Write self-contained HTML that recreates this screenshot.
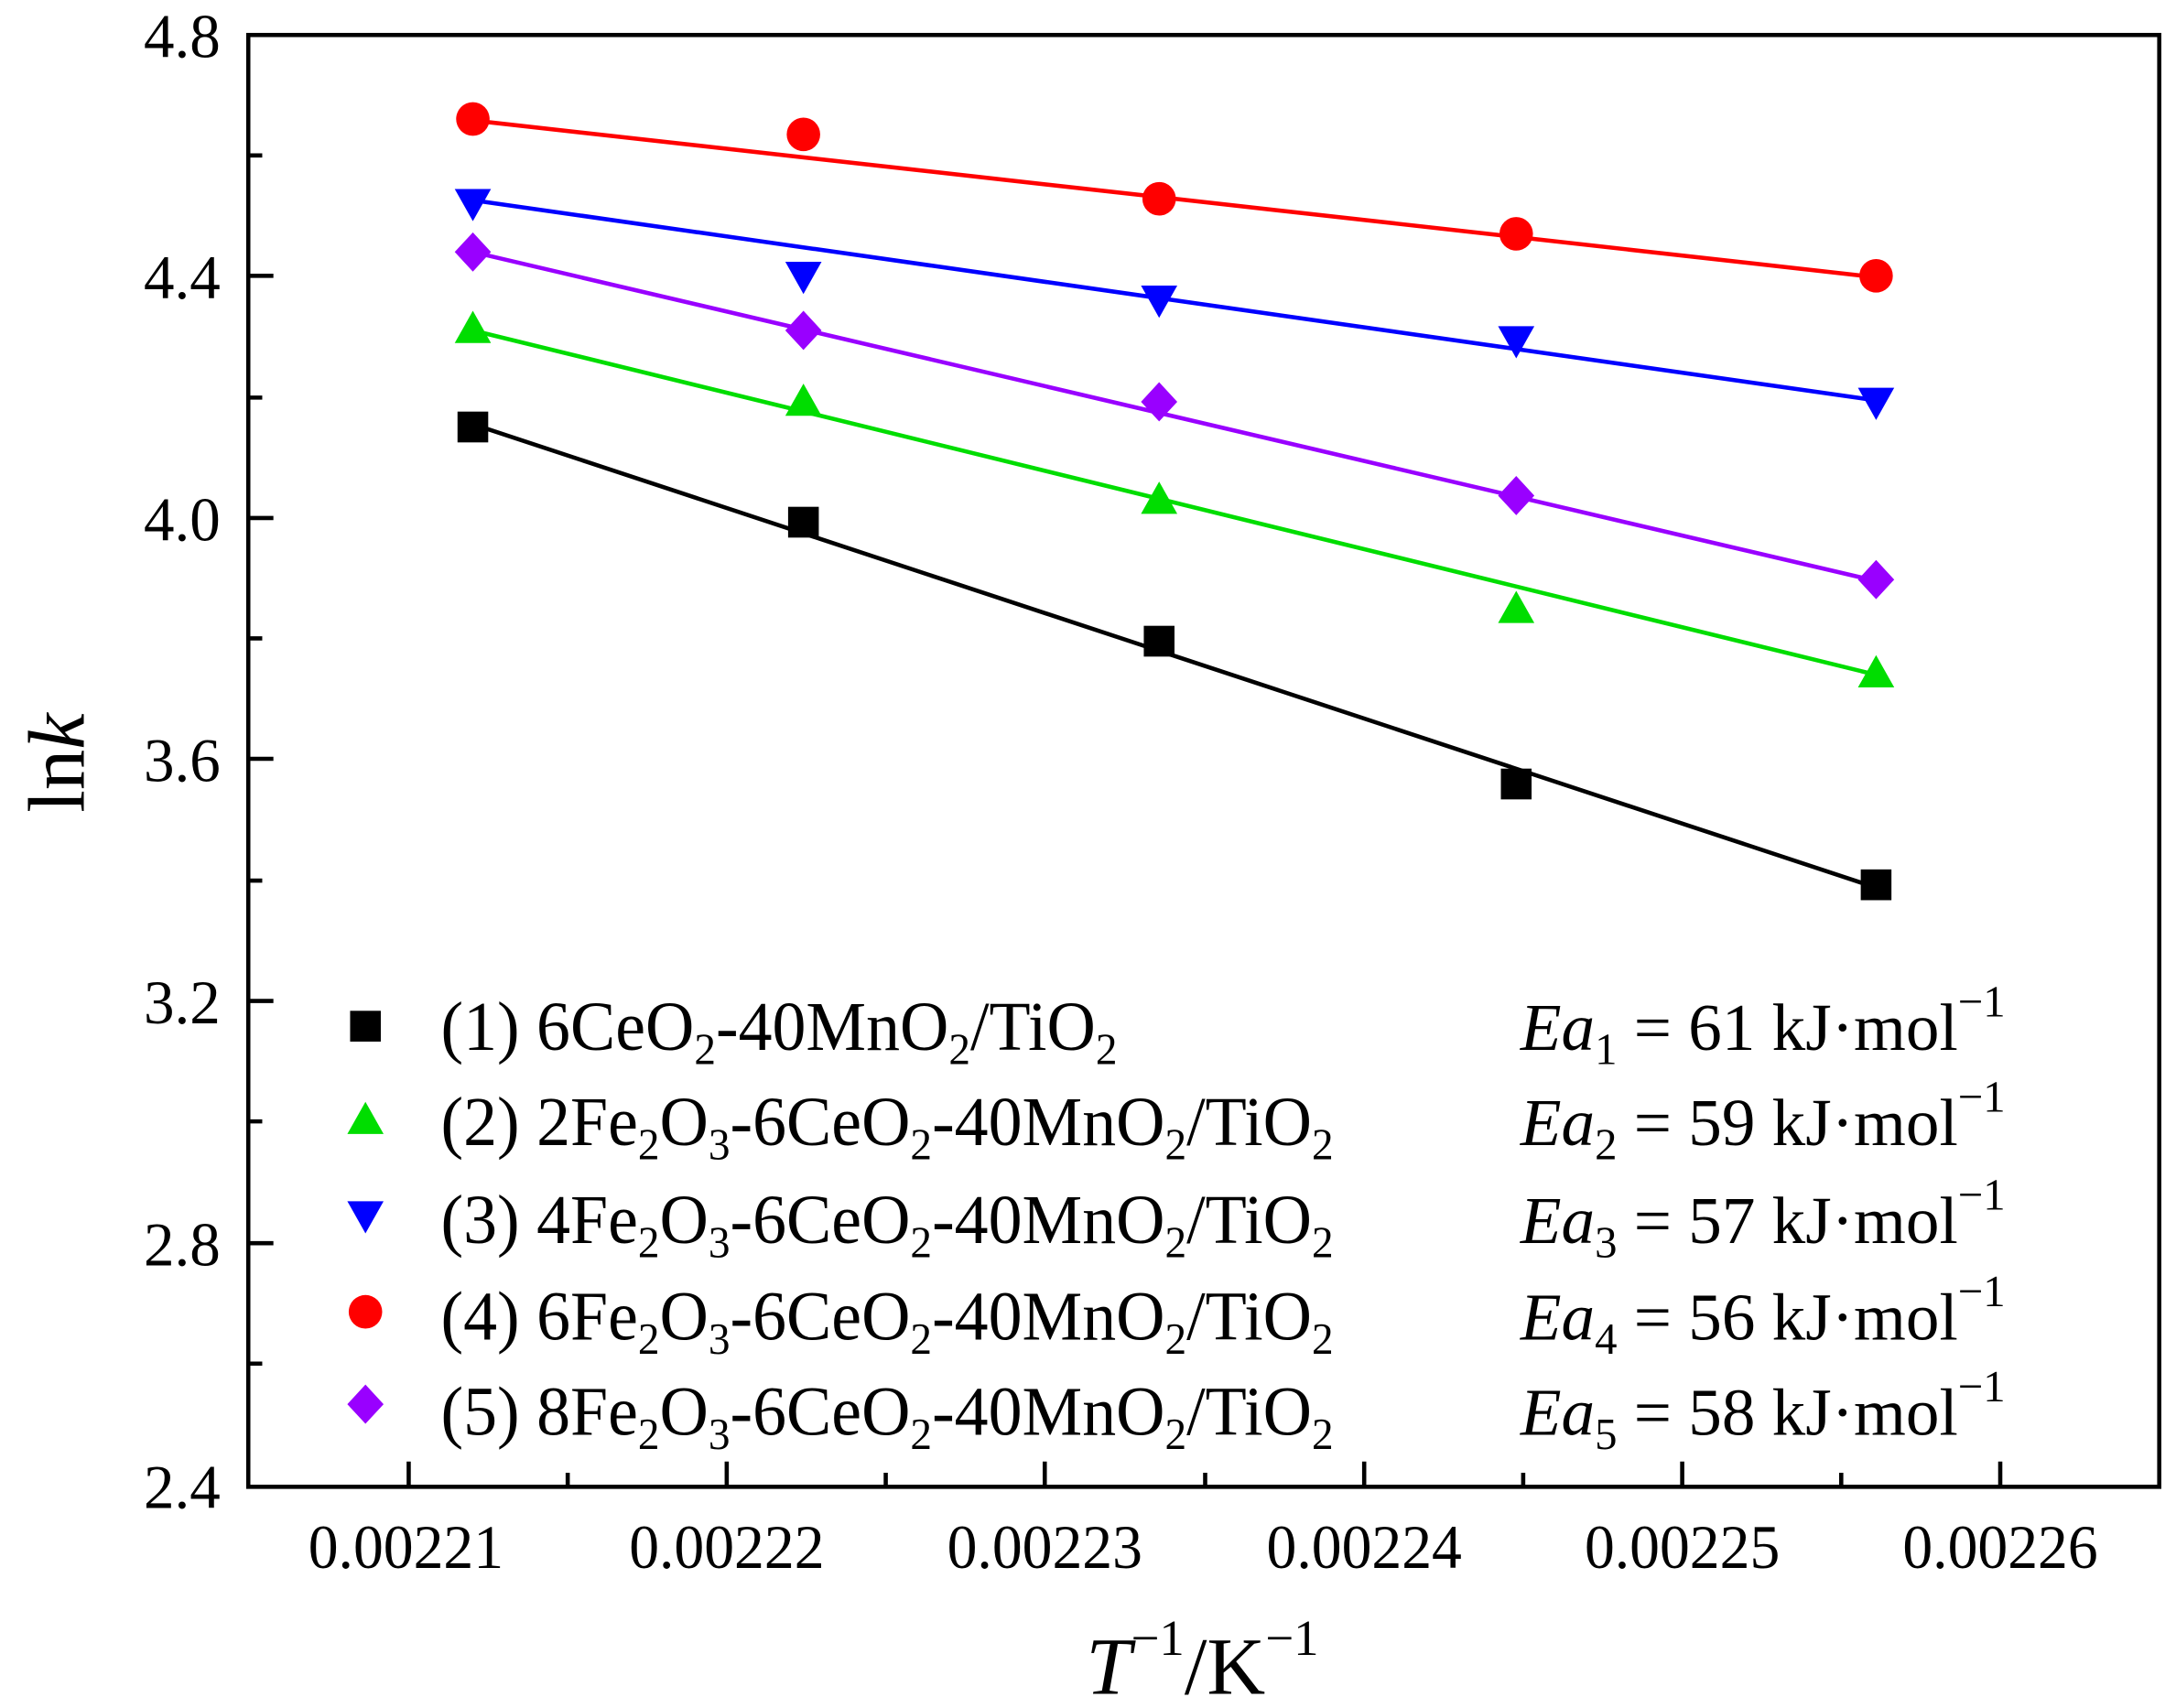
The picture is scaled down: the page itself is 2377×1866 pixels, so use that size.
<!DOCTYPE html>
<html><head><meta charset="utf-8"><style>html,body{margin:0;padding:0;background:#fff}svg{display:block}</style></head><body>
<svg width="2377" height="1866" viewBox="0 0 1560 1220" preserveAspectRatio="none" xmlns="http://www.w3.org/2000/svg" font-family="Liberation Serif, serif">
<rect width="1560" height="1220" fill="#fff"/>
<g stroke="#000" stroke-width="3" fill="none">
<rect x="178" y="25" width="1370" height="1037"/>
<path d="M178 25h18M178 111h10M178 197h18M178 284h10M178 370h18M178 456h10M178 542h18M178 629h10M178 715h18M178 801h10M178 888h18M178 974h10"/>
<path d="M293 1062v-18M407 1062v-10M521 1062v-18M635 1062v-10M749 1062v-18M864 1062v-10M978 1062v-18M1092 1062v-10M1206 1062v-18M1320 1062v-10M1434 1062v-18"/>
</g>
<g font-size="44" text-anchor="end" fill="#000">
<text x="158" y="41">4.8</text><text x="158" y="213">4.4</text><text x="158" y="386">4.0</text><text x="158" y="558">3.6</text><text x="158" y="731">3.2</text><text x="158" y="904">2.8</text><text x="158" y="1077">2.4</text>
</g>
<g font-size="44" text-anchor="middle" fill="#000">
<text x="291" y="1120" textLength="140" lengthAdjust="spacingAndGlyphs">0.00221</text><text x="521" y="1120" textLength="140" lengthAdjust="spacingAndGlyphs">0.00222</text><text x="749" y="1120" textLength="140" lengthAdjust="spacingAndGlyphs">0.00223</text><text x="978" y="1120" textLength="140" lengthAdjust="spacingAndGlyphs">0.00224</text><text x="1206" y="1120" textLength="140" lengthAdjust="spacingAndGlyphs">0.00225</text><text x="1434" y="1120" textLength="140" lengthAdjust="spacingAndGlyphs">0.00226</text>
</g>
<text transform="translate(60,545) rotate(-90)" font-size="58" text-anchor="middle">ln<tspan font-style="italic">k</tspan></text>
<text x="862" y="1210" font-size="58" text-anchor="middle"><tspan font-style="italic">T</tspan><tspan font-size="36" dy="-28">−1</tspan><tspan dy="28">/K</tspan><tspan font-size="36" dy="-28">−1</tspan></text>
<g stroke-width="3" fill="none">
<line x1="339" y1="86" x2="1345" y2="198" stroke="#f00"/>
<line x1="339" y1="143" x2="1345" y2="286" stroke="#00f"/>
<line x1="339" y1="180" x2="1345" y2="415" stroke="#90f"/>
<line x1="339" y1="236" x2="1345" y2="482" stroke="#0d0"/>
<line x1="339" y1="303" x2="1345" y2="634" stroke="#000"/>
</g>
<g fill="#f00"><circle cx="339" cy="85" r="12"/><circle cx="576" cy="96" r="12"/><circle cx="831" cy="142" r="12"/><circle cx="1087" cy="167" r="12"/><circle cx="1345" cy="197" r="12"/><circle cx="262" cy="937" r="12"/></g>
<g fill="#00f"><path d="M326 135h26l-13 23z"/><path d="M563 187h26l-13 23z"/><path d="M818 204h26l-13 23z"/><path d="M1074 233h26l-13 23z"/><path d="M1332 277h26l-13 23z"/><path d="M249 858h26l-13 23z"/></g>
<g fill="#90f"><path d="M339 166l13 14-13 14-13-14z"/><path d="M576 222l13 14-13 14-13-14z"/><path d="M831 273l13 14-13 14-13-14z"/><path d="M1087 340l13 14-13 14-13-14z"/><path d="M1345 400l13 14-13 14-13-14z"/><path d="M262 989l13 14-13 14-13-14z"/></g>
<g fill="#0d0"><path d="M326 245h26l-13-23z"/><path d="M563 297h26l-13-23z"/><path d="M818 367h26l-13-23z"/><path d="M1074 445h26l-13-23z"/><path d="M1332 491h26l-13-23z"/><path d="M249 810h26l-13-23z"/></g>
<g fill="#000"><rect x="328" y="294" width="22" height="22"/><rect x="565" y="362" width="22" height="22"/><rect x="820" y="447" width="22" height="22"/><rect x="1076" y="549" width="22" height="22"/><rect x="1334" y="621" width="22" height="22"/><rect x="251" y="722" width="22" height="22"/></g>
<g font-size="50" fill="#000">
<text x="316" y="750" textLength="485" lengthAdjust="spacingAndGlyphs">(1) 6CeO<tspan font-size="32" dy="10">2</tspan><tspan dy="-10">-40MnO</tspan><tspan font-size="32" dy="10">2</tspan><tspan dy="-10">/TiO</tspan><tspan font-size="32" dy="10">2</tspan></text>
<text x="316" y="818" textLength="640" lengthAdjust="spacingAndGlyphs">(2) 2Fe<tspan font-size="32" dy="10">2</tspan><tspan dy="-10">O</tspan><tspan font-size="32" dy="10">3</tspan><tspan dy="-10">-6CeO</tspan><tspan font-size="32" dy="10">2</tspan><tspan dy="-10">-40MnO</tspan><tspan font-size="32" dy="10">2</tspan><tspan dy="-10">/TiO</tspan><tspan font-size="32" dy="10">2</tspan></text>
<text x="316" y="888" textLength="640" lengthAdjust="spacingAndGlyphs">(3) 4Fe<tspan font-size="32" dy="10">2</tspan><tspan dy="-10">O</tspan><tspan font-size="32" dy="10">3</tspan><tspan dy="-10">-6CeO</tspan><tspan font-size="32" dy="10">2</tspan><tspan dy="-10">-40MnO</tspan><tspan font-size="32" dy="10">2</tspan><tspan dy="-10">/TiO</tspan><tspan font-size="32" dy="10">2</tspan></text>
<text x="316" y="957" textLength="640" lengthAdjust="spacingAndGlyphs">(4) 6Fe<tspan font-size="32" dy="10">2</tspan><tspan dy="-10">O</tspan><tspan font-size="32" dy="10">3</tspan><tspan dy="-10">-6CeO</tspan><tspan font-size="32" dy="10">2</tspan><tspan dy="-10">-40MnO</tspan><tspan font-size="32" dy="10">2</tspan><tspan dy="-10">/TiO</tspan><tspan font-size="32" dy="10">2</tspan></text>
<text x="316" y="1025" textLength="640" lengthAdjust="spacingAndGlyphs">(5) 8Fe<tspan font-size="32" dy="10">2</tspan><tspan dy="-10">O</tspan><tspan font-size="32" dy="10">3</tspan><tspan dy="-10">-6CeO</tspan><tspan font-size="32" dy="10">2</tspan><tspan dy="-10">-40MnO</tspan><tspan font-size="32" dy="10">2</tspan><tspan dy="-10">/TiO</tspan><tspan font-size="32" dy="10">2</tspan></text>
</g>
<g font-size="48" fill="#000">
<text x="1090" y="750"><tspan font-style="italic">Ea</tspan><tspan font-size="32" dy="10">1</tspan><tspan dy="-10"> = 61 kJ·mol</tspan><tspan font-size="32" dy="-24">−1</tspan></text>
<text x="1090" y="818"><tspan font-style="italic">Ea</tspan><tspan font-size="32" dy="10">2</tspan><tspan dy="-10"> = 59 kJ·mol</tspan><tspan font-size="32" dy="-24">−1</tspan></text>
<text x="1090" y="888"><tspan font-style="italic">Ea</tspan><tspan font-size="32" dy="10">3</tspan><tspan dy="-10"> = 57 kJ·mol</tspan><tspan font-size="32" dy="-24">−1</tspan></text>
<text x="1090" y="957"><tspan font-style="italic">Ea</tspan><tspan font-size="32" dy="10">4</tspan><tspan dy="-10"> = 56 kJ·mol</tspan><tspan font-size="32" dy="-24">−1</tspan></text>
<text x="1090" y="1025"><tspan font-style="italic">Ea</tspan><tspan font-size="32" dy="10">5</tspan><tspan dy="-10"> = 58 kJ·mol</tspan><tspan font-size="32" dy="-24">−1</tspan></text>
</g>
</svg>
</body></html>
